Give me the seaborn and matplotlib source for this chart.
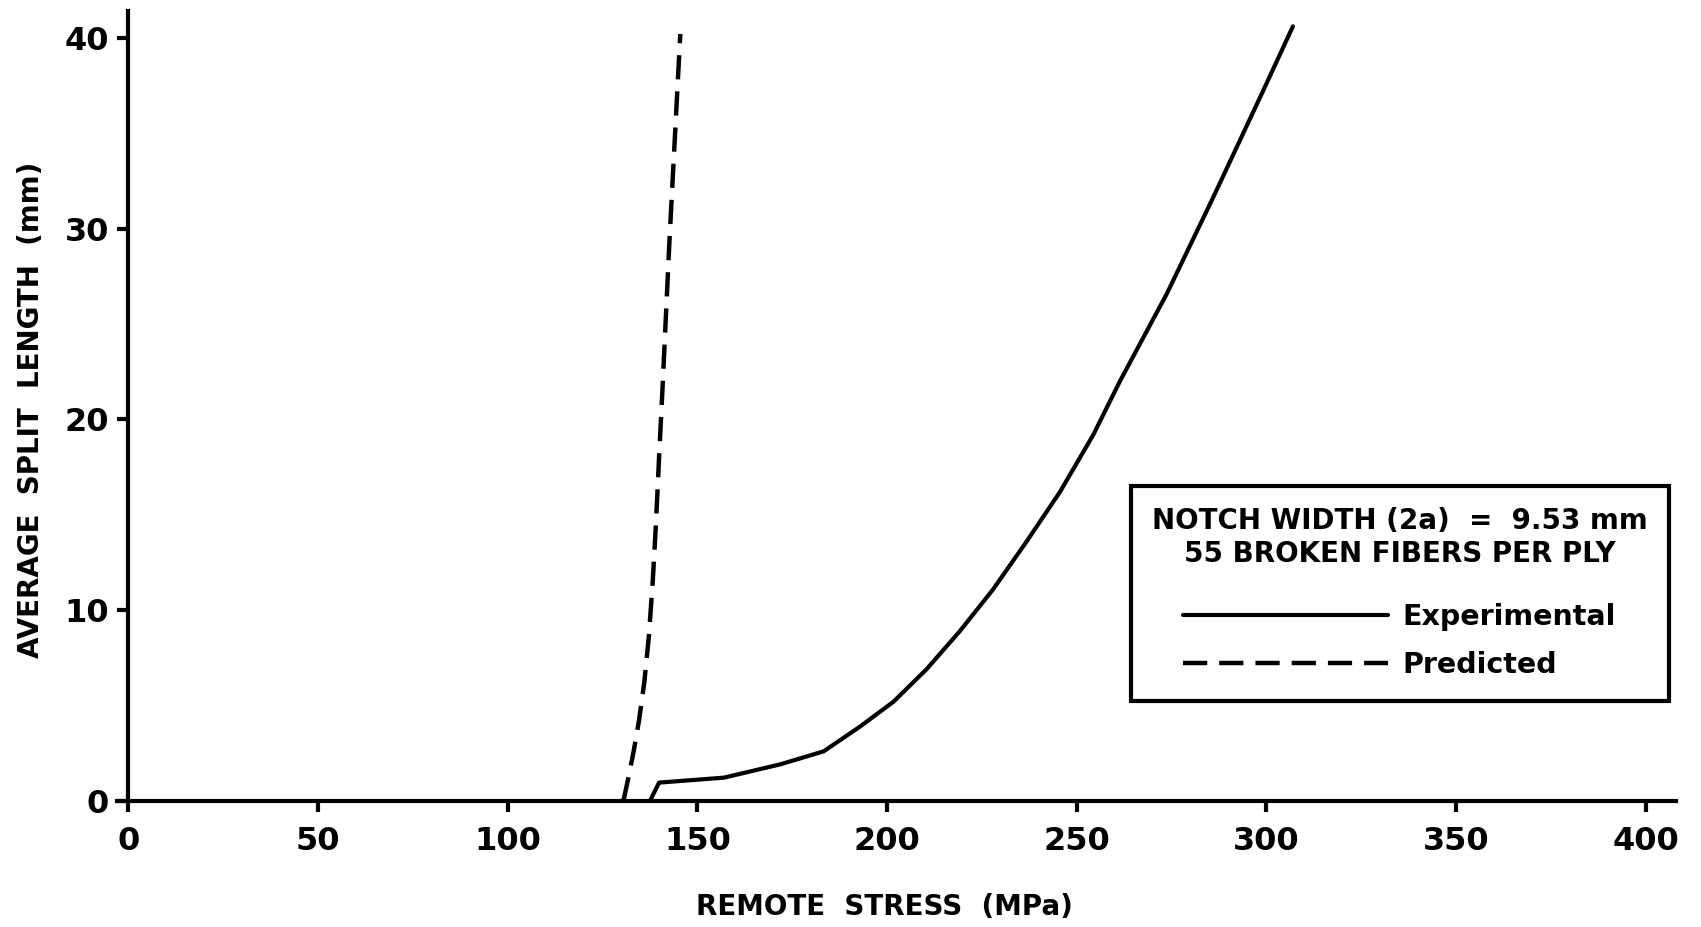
import numpy as np
import pandas as pd
import matplotlib
matplotlib.use("Agg")
import matplotlib.pyplot as plt
import seaborn as sns

# values
exp_stress = [137.5, 139.9, 157.0, 171.9, 183.3, 192.9, 201.7, 210.4, 219.2,
              228.0, 236.8, 245.6, 254.4, 261.4, 273.8, 285.9, 299.1, 307.0]
exp_split = [0.0, 0.96, 1.22, 1.92, 2.6, 3.9, 5.2, 6.9, 8.9,
             11.1, 13.6, 16.2, 19.2, 22.0, 26.6, 31.6, 37.2, 40.6]

pred_stress = [130.5, 131.8, 133.2, 134.6, 136.0, 137.2, 138.2, 139.1,
               139.9, 140.8, 141.7, 142.6, 143.6, 144.6, 145.5]
pred_split = [0.0, 1.2, 2.6, 4.2, 6.2, 8.6, 11.4, 14.6,
              18.0, 21.6, 25.4, 29.2, 33.0, 36.8, 40.2]

x_ticks = [0, 50, 100, 150, 200, 250, 300, 350, 400]
y_ticks = [0, 10, 20, 30, 40]

legend_title = "NOTCH WIDTH (2a)  =  9.53 mm\n55 BROKEN FIBERS PER PLY"

sns.set_style("ticks", {"text.color": "black", "axes.labelcolor": "black",
                        "xtick.color": "black", "ytick.color": "black",
                        "axes.edgecolor": "black"})
plt.rcParams["font.family"] = ["DejaVu Sans"]
plt.rcParams["font.weight"] = "bold"

exp_df = pd.DataFrame({"stress": exp_stress, "split": exp_split})
pred_df = pd.DataFrame({"stress": pred_stress, "split": pred_split})

fig = plt.figure(figsize=(17.01, 9.27), dpi=100)
ax = fig.add_axes([0.0688, 0.136, 0.9165, 0.852])

sns.lineplot(data=exp_df, x="stress", y="split", ax=ax, color="black",
             linewidth=3, label="Experimental", sort=False)
sns.lineplot(data=pred_df, x="stress", y="split", ax=ax, color="black",
             linewidth=3.2, label="Predicted", sort=False)
ax.lines[1].set_dashes((5.45, 2.7))

ax.set_xlim(-3, 408)
ax.set_ylim(0, 41.4)
ax.spines["left"].set_position(("data", 0))
ax.spines["top"].set_visible(False)
ax.spines["right"].set_visible(False)
for s in ("left", "bottom"):
    ax.spines[s].set_linewidth(3)

ax.set_xticks(x_ticks)
ax.set_yticks(y_ticks)
ax.tick_params(axis="x", direction="out", length=8, width=3,
               labelsize=23, pad=10)
ax.tick_params(axis="y", direction="out", length=8, width=3,
               labelsize=23, pad=6)
for lab in ax.get_xticklabels() + ax.get_yticklabels():
    lab.set_fontweight("bold")

ax.set_xlabel("REMOTE  STRESS  (MPa)", fontsize=20, fontweight="bold")
ax.xaxis.set_label_coords(0.4925, -0.117)
ax.set_ylabel("AVERAGE  SPLIT  LENGTH  (mm)", fontsize=20, fontweight="bold")
ax.yaxis.set_label_coords(-0.046, 0.495)

leg = ax.legend(title=legend_title, loc="upper right",
                bbox_to_anchor=(0.9955, 0.399), frameon=True, fancybox=False,
                fontsize=20.5, title_fontsize=20, handlelength=7.2,
                handletextpad=0.5, borderpad=0.75, labelspacing=0.7,
                borderaxespad=0)
leg.get_frame().set_edgecolor("black")
leg.get_frame().set_linewidth(3)
leg.get_frame().set_alpha(1)
leg.get_title().set_fontweight("bold")
leg.get_title().set_multialignment("center")
leg._legend_box.align = "center"
# extra gap between the title block and the two entries
leg._legend_box.sep = 0.7 * 20.5 + 11.5
for t in leg.get_texts():
    t.set_fontweight("bold")

fig.savefig("out.png", dpi=100)
